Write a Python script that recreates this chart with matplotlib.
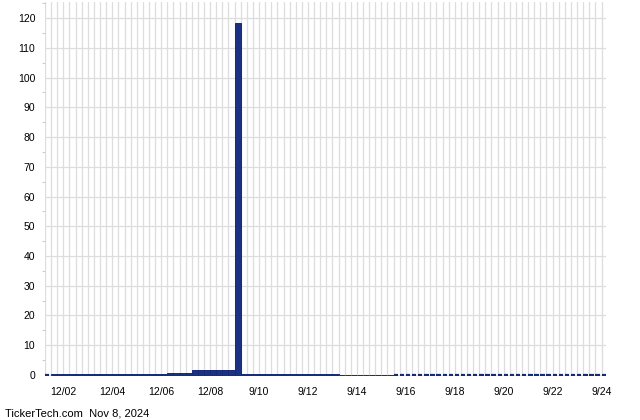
import matplotlib
matplotlib.use("Agg")
import matplotlib.pyplot as plt
from matplotlib.ticker import MultipleLocator

# bar slots (index) and values
slots = list(range(-3, 89))
values = [0.0,
          0.2, 0.2, 0.2, 0.2, 0.2, 0.2, 0.2, 0.2, 0.2, 0.2,
          0.2, 0.2, 0.2, 0.2, 0.2, 0.2, 0.2, 0.2, 0.2,
          0.6, 0.6, 0.6, 0.6,
          1.5, 1.5, 1.5, 1.5, 1.5, 1.5, 1.5,
          118.3,
          0.4, 0.4, 0.4, 0.4, 0.4, 0.4, 0.4, 0.4,
          0.4, 0.4, 0.4, 0.4, 0.4, 0.4, 0.4, 0.4,
          0.1, 0.1, 0.1, 0.1, 0.1, 0.1, 0.1, 0.1, 0.1,
          0.0, 0.0, 0.0, 0.0, 0.0, 0.0, 0.0, 0.0, 0.0, 0.0,
          0.0, 0.0, 0.0, 0.0, 0.0, 0.0, 0.0, 0.0, 0.0, 0.0,
          0.0, 0.0, 0.0, 0.0, 0.0, 0.0, 0.0, 0.0, 0.0, 0.0,
          0.0, 0.0, 0.0, 0.0, 0.0]
tick_slots = [0, 8, 16, 24, 32, 40, 48, 56, 64, 72, 80, 88]
tick_labels = ['12/02', '12/04', '12/06', '12/08', '9/10', '9/12',
               '9/14', '9/16', '9/18', '9/20', '9/22', '9/24']

plt.rcParams['font.family'] = ['Liberation Sans', 'DejaVu Sans']

fig = plt.figure(figsize=(6.4, 4.2), dpi=100)
W, H = 640, 420
ax = fig.add_axes([45 / W, 1 - 376 / H, (605.5 - 45) / W, (376 - 2) / H])

widths = [1.0 if v > 0 else 0.72 for v in values]
lws = [0.7 if v > 0 else 1.6 for v in values]
ax.bar(slots, values, width=widths, align='edge', color='#1b3183',
       edgecolor='#16297a', linewidth=lws, zorder=3)

ax.set_xlim(-2.8, 88.65)
ax.set_ylim(-0.35, 125.4)

for s in ax.spines.values():
    s.set_visible(False)

ax.set_xticks(tick_slots)
ax.set_xticklabels(tick_labels)
ax.set_xticks(range(-3, 89), minor=True)
ax.grid(True, which='both', axis='x', color='#dddddd', linewidth=0.9, zorder=0)
ax.set_yticks(range(0, 121, 10))
ax.yaxis.set_minor_locator(MultipleLocator(5))
ax.grid(True, which='major', axis='y', color='#dddddd', linewidth=0.9, zorder=0)
ax.tick_params(axis='x', which='both', length=0, pad=8, labelsize=7.5)
ax.tick_params(axis='y', which='major', length=0, pad=7, labelsize=7.5)
ax.tick_params(axis='y', which='minor', length=2, color='#cccccc', width=0.8)
ax.set_axisbelow(True)

fig.text(5 / W, 1 - 413 / H, 'TickerTech.com  Nov 8, 2024', fontsize=8,
         va='center', ha='left', color='#000000')

fig.savefig('out.png', dpi=100)
